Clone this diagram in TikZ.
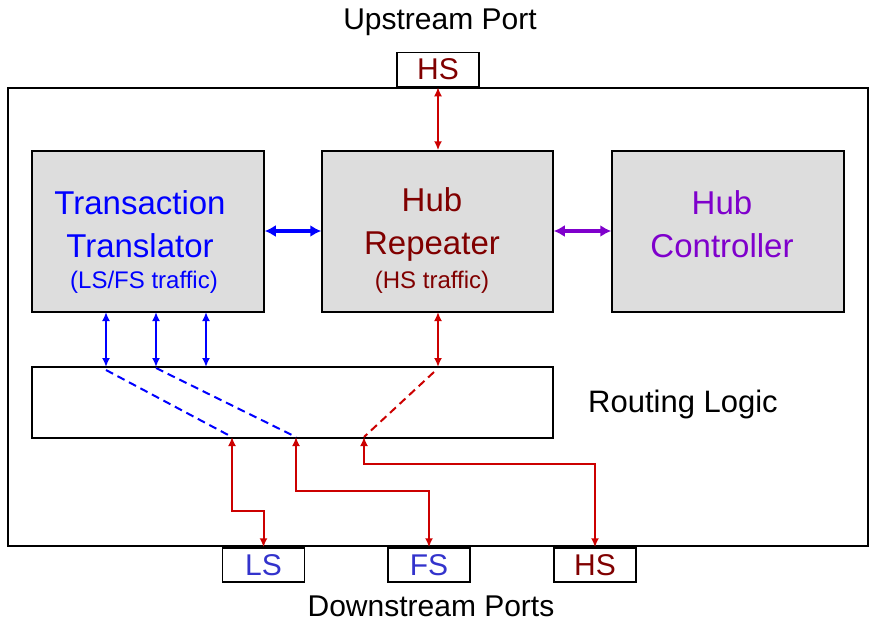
\documentclass[tikz,border=0pt]{standalone}
\usepackage{fontspec}
\setmainfont{Liberation Sans}
\usetikzlibrary{arrows.meta}
\definecolor{dred}{HTML}{800000}
\definecolor{rline}{HTML}{CC0000}
\definecolor{pblue}{HTML}{3333CC}
\definecolor{purp}{HTML}{7F00CC}
\definecolor{boxg}{HTML}{DDDDDD}
\begin{document}
\begin{tikzpicture}[x=1pt,y=-1pt,
  blk/.style={draw,line width=1.5pt,fill=boxg,align=center},
  port/.style={draw,line width=1.5pt,fill=white,minimum width=82pt,minimum height=34pt,inner sep=0pt,font=\fontsize{30}{32}\selectfont},
  big/.style={align=center,font=\fontsize{33}{43}\selectfont},
  small/.style={font=\fontsize{24}{26}\selectfont},
  rarr/.style={rline,line width=2pt,{Latex[length=9pt,width=8pt]}-{Latex[length=9pt,width=8pt]}},
  barr/.style={blue,line width=2pt,{Latex[length=9pt,width=8pt]}-{Latex[length=9pt,width=8pt]}},
  dsh/.style={line width=2pt,dash pattern=on 8pt off 5pt}]
\useasboundingbox (0,0) rectangle (873,630);
\draw[line width=1.5pt] (8,88) rectangle (868,546);
\node[font=\fontsize{30}{32}\selectfont] (up) at (440,22) {Upstream Port};
\node[port,text=dred] (hsu) at (438,69.5) {HS};
\node[blk,minimum width=232pt,minimum height=161pt] (tt) at (148,231.5) {};
\node[blk,minimum width=231pt,minimum height=161pt] (hr) at (437.5,231.5) {};
\node[blk,minimum width=232pt,minimum height=161pt] (hc) at (728,231.5) {};
\node[big,text=blue] (ttt) at (140,224) {Transaction\\Translator};
\node[small,text=blue] (tts) at (144,282) {(LS/FS traffic)};
\node[big,text=dred] (hrt) at (432,224) {Hub\\Repeater};
\node[small,text=dred] (hrs) at (432,282) {(HS traffic)};
\node[big,text=purp] (hct) at (722,224) {Hub\\Controller};
\node[draw,line width=1.5pt,fill=white,minimum width=521pt,minimum height=71pt] (rl) at (292.5,402.5) {};
\node[font=\fontsize{31}{32}\selectfont] (rlt) at (683,404) {Routing Logic};
\draw[blue,line width=3.5pt,{Latex[length=11pt,width=12pt]}-{Latex[length=11pt,width=12pt]}] (tt.east|-0,231) -- (hr.west|-0,231);
\draw[purp,line width=3.5pt,{Latex[length=11pt,width=12pt]}-{Latex[length=11pt,width=12pt]}] (hr.east|-0,231) -- (hc.west|-0,231);
\draw[rarr] (hsu.south) -- (hsu.south|-hr.north);
\foreach \x in {106,156,206} \draw[barr] (\x,312) -- (\x,367);
\draw[rarr] (438,312) -- (438,367);
\coordinate (a1) at (232,437); \coordinate (a2) at (296,437); \coordinate (a3) at (364,437);
\draw[blue,dsh] (106,370) -- (a1);
\draw[blue,dsh] (156,368) -- (a2);
\draw[rline,dsh] (434,372) -- (a3);
\node[port,text=pblue] (ls) at (263.5,565) {LS};
\node[port,text=pblue] (fs) at (429,565) {FS};
\node[port,text=dred] (hsd) at (595,565) {HS};
\draw[rarr] (a1) -- (232,511) -| (ls.north);
\draw[rarr] (a2) -- (296,491) -| (fs.north);
\draw[rarr] (a3) -- (364,464) -| (hsd.north);
\node[font=\fontsize{30}{32}\selectfont] (dn) at (431,606) {Downstream Ports};
\end{tikzpicture}
\end{document}
